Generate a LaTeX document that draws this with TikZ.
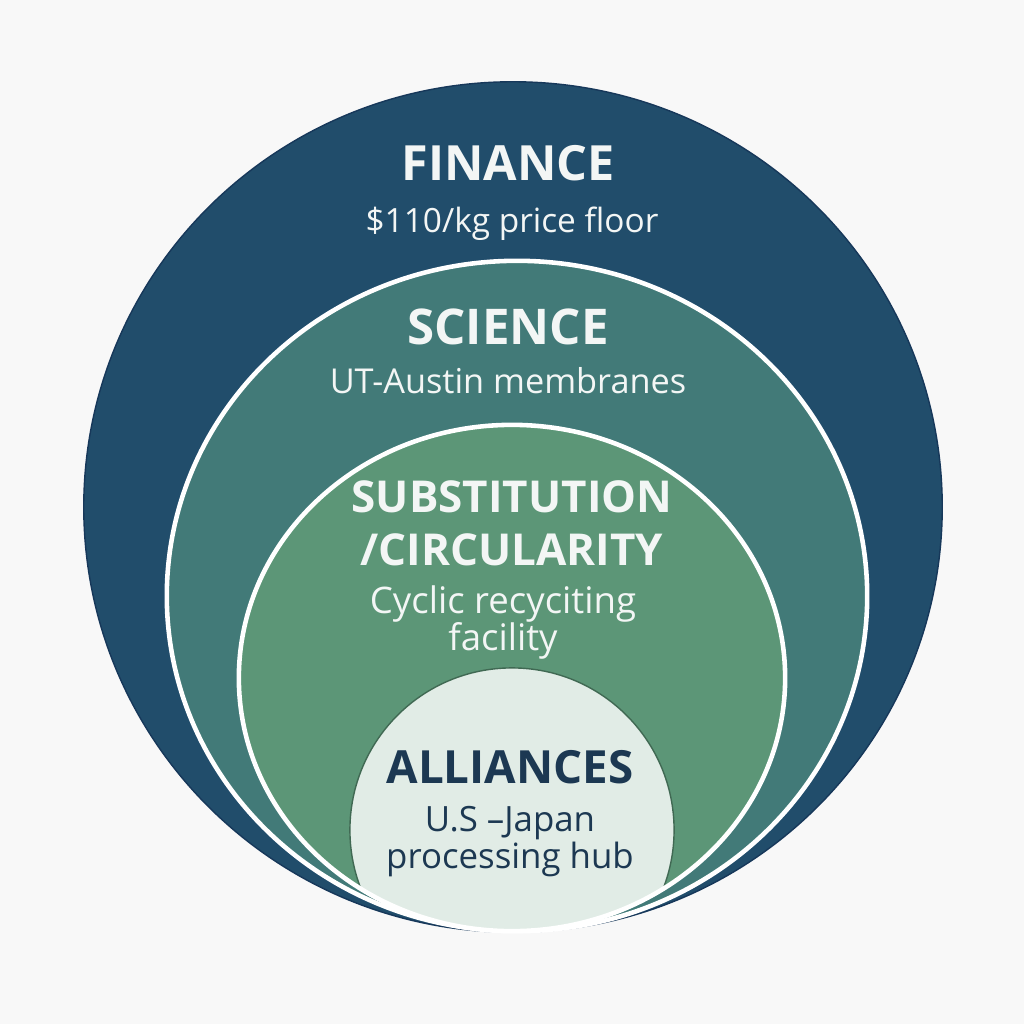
\documentclass[tikz,border=0pt]{standalone}
\usepackage{fontspec}
\setmainfont{Open Sans}
\usetikzlibrary{positioning}
\definecolor{pagegray}{HTML}{F8F8F8}
\definecolor{financeblue}{HTML}{214D6B}
\definecolor{financeedge}{HTML}{17385A}
\definecolor{scienceteal}{HTML}{427A78}
\definecolor{substgreen}{HTML}{5C9677}
\definecolor{allypale}{HTML}{E1ECE6}
\definecolor{allynavy}{HTML}{1C3852}
\definecolor{labelwhite}{HTML}{F3F6F5}

\begin{document}
\begin{tikzpicture}[x=0.01cm,y=-0.01cm,
  ring title/.style={font=\fontsize{13}{15}\selectfont\bfseries, text=labelwhite, anchor=base, inner sep=0pt, align=center},
  ring text/.style={font=\fontsize{10}{10.5}\selectfont, text=labelwhite, anchor=base, inner sep=0pt, align=center},
  white rim/.style={draw=white, line width=1.3pt}]
  % page
  \fill[pagegray] (0,0) rectangle (1024,1024);
  \useasboundingbox (0,0) rectangle (1024,1024);

  % the four rings, all touching at the bottom
  \fill[financeblue, draw=financeedge, line width=0.4pt] (513,507) ellipse [x radius=4.29cm, y radius=4.25cm];
  \fill[scienceteal] (517,596) ellipse [x radius=3.50cm, y radius=3.35cm];
  \draw[white rim] (517,596) ellipse [x radius=3.50cm, y radius=3.35cm];
  \fill[substgreen] (512,678) ellipse [x radius=2.73cm, y radius=2.53cm];
  \begin{scope}
    \clip (512,678) ellipse [x radius=2.73cm, y radius=2.53cm];
    \fill[allypale, draw=substgreen!70!black, line width=0.4pt] (512,830) circle [radius=1.62cm];
  \end{scope}
  \draw[white rim] (512,678) ellipse [x radius=2.73cm, y radius=2.53cm];

  % labels (base = last line)
  \node[ring title, font=\fontsize{13.8}{15}\selectfont\bfseries] (finance) at (508,180) {FINANCE};
  \node[ring text, font=\fontsize{9.5}{10.5}\selectfont] (financetxt) at (512,232) {\$110/kg price floor};
  \node[ring title, font=\fontsize{14}{15}\selectfont\bfseries] (science) at (508,344) {SCIENCE};
  \node[ring text, font=\fontsize{9.75}{10.5}\selectfont] (sciencetxt) at (508,393) {UT-Austin membranes};
  \node[ring title, font=\fontsize{12.5}{14.8}\selectfont\bfseries] (subst) at (512,565) {SUBSTITUTION\\/CIRCULARITY};
  \node[ring text, font=\fontsize{10.4}{10.5}\selectfont] (substtxt) at (503,650) {Cyclic recyciting\\facility};
  \node[ring title, text=allynavy] (alliances) at (510,783) {ALLIANCES};
  \node[ring text, text=allynavy, font=\fontsize{9.9}{10.3}\selectfont] (alliancestxt) at (510,868) {U.S –Japan\\processing hub};
\end{tikzpicture}
\end{document}
